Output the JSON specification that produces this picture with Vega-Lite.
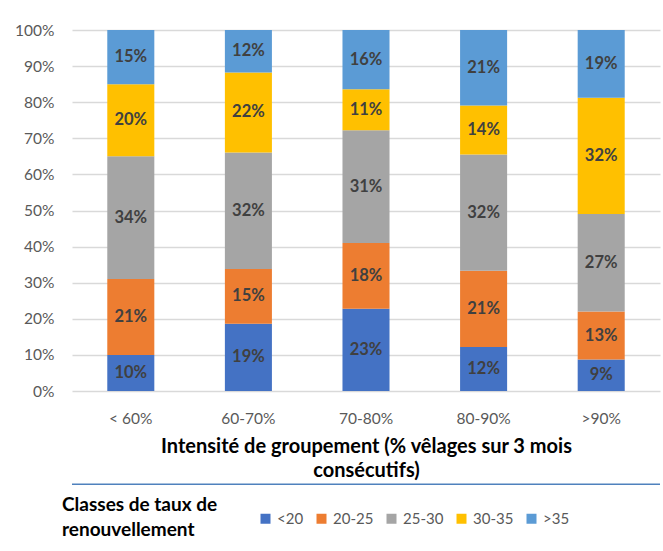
{
  "$schema": "https://vega.github.io/schema/vega-lite/v6.json",
  "width": 588,
  "height": 361,
  "autosize": {"type": "none"},
  "padding": {"left": 72, "top": 30, "right": 3, "bottom": 160},
  "background": "white",
  "config": {
    "font": "Lato",
    "view": {"stroke": null},
    "axisY": {
      "labelOverlap": false,
      "labelFontSize": 15.5, "labelColor": "#595959", "labelPadding": 18,
      "domain": false, "ticks": false, "gridColor": "#D9D9D9", "gridWidth": 1.3,
      "format": ".0%"
    }
  },
  "layer": [
    {
      "data": {"values": [
        {"g": "< 60%", "c": "<20", "k": 1, "v": 0.10},
        {"g": "< 60%", "c": "20-25", "k": 2, "v": 0.21},
        {"g": "< 60%", "c": "25-30", "k": 3, "v": 0.34},
        {"g": "< 60%", "c": "30-35", "k": 4, "v": 0.20},
        {"g": "< 60%", "c": ">35", "k": 5, "v": 0.15},
        {"g": "60-70%", "c": "<20", "k": 1, "v": 0.186},
        {"g": "60-70%", "c": "20-25", "k": 2, "v": 0.152},
        {"g": "60-70%", "c": "25-30", "k": 3, "v": 0.323},
        {"g": "60-70%", "c": "30-35", "k": 4, "v": 0.221},
        {"g": "60-70%", "c": ">35", "k": 5, "v": 0.118},
        {"g": "70-80%", "c": "<20", "k": 1, "v": 0.228},
        {"g": "70-80%", "c": "20-25", "k": 2, "v": 0.182},
        {"g": "70-80%", "c": "25-30", "k": 3, "v": 0.312},
        {"g": "70-80%", "c": "30-35", "k": 4, "v": 0.114},
        {"g": "70-80%", "c": ">35", "k": 5, "v": 0.164},
        {"g": "80-90%", "c": "<20", "k": 1, "v": 0.122},
        {"g": "80-90%", "c": "20-25", "k": 2, "v": 0.211},
        {"g": "80-90%", "c": "25-30", "k": 3, "v": 0.322},
        {"g": "80-90%", "c": "30-35", "k": 4, "v": 0.136},
        {"g": "80-90%", "c": ">35", "k": 5, "v": 0.209},
        {"g": ">90%", "c": "<20", "k": 1, "v": 0.087},
        {"g": ">90%", "c": "20-25", "k": 2, "v": 0.133},
        {"g": ">90%", "c": "25-30", "k": 3, "v": 0.270},
        {"g": ">90%", "c": "30-35", "k": 4, "v": 0.322},
        {"g": ">90%", "c": ">35", "k": 5, "v": 0.188}
      ]},
      "transform": [
        {"stack": "v", "groupby": ["g"], "sort": [{"field": "k"}], "as": ["v0", "v1"]},
        {"calculate": "(datum.v0 + datum.v1) / 2", "as": "mid"}
      ],
      "encoding": {
        "x": {
          "field": "g", "type": "nominal",
          "sort": ["< 60%", "60-70%", "70-80%", "80-90%", ">90%"],
          "scale": {"paddingInner": 0.6, "paddingOuter": 0.3},
          "axis": {
            "labelAngle": 0, "labelFontSize": 15.5, "labelColor": "#595959", "labelPadding": 20,
            "domain": false, "ticks": false,
            "title": ["Intensité de groupement (% vêlages sur 3 mois", "consécutifs)"],
            "titleFontSize": 20, "titleFontWeight": "bold", "titleColor": "#000000",
            "titlePadding": 10, "titleLineHeight": 23.5
          }
        }
      },
      "layer": [
        {
          "mark": {"type": "bar"},
          "encoding": {
            "y": {
              "field": "v0", "type": "quantitative",
              "scale": {"domain": [0, 1]},
              "axis": {"values": [0, 0.1, 0.2, 0.3, 0.4, 0.5, 0.6, 0.7, 0.8, 0.9, 1], "title": null}
            },
            "y2": {"field": "v1"},
            "color": {
              "field": "c", "type": "nominal",
              "scale": {
                "domain": ["<20", "20-25", "25-30", "30-35", ">35"],
                "range": ["#4472C4", "#ED7D31", "#A5A5A5", "#FFC000", "#5B9BD5"]
              },
              "legend": {
                "orient": "none", "legendX": -10, "legendY": 481,
                "direction": "horizontal",
                "title": ["Classes de taux de", "renouvellement"],
                "titleOrient": "left", "titleAnchor": "start", "titleBaseline": "alphabetic",
                "titleFontSize": 19, "titleFontWeight": "bold",
                "titleColor": "#000000", "titleLineHeight": 25, "titlePadding": 40,
                "labelFontSize": 15, "labelColor": "#595959",
                "symbolType": "square", "symbolSize": 100, "symbolStrokeWidth": 0,
                "labelOffset": 4, "columnPadding": 10
              }
            }
          }
        },
        {
          "mark": {"type": "text", "fontWeight": "bold", "fontSize": 16.5, "color": "#404040"},
          "encoding": {
            "y": {
              "field": "mid", "type": "quantitative", "scale": {"domain": [0, 1]},
              "axis": {"values": [0, 0.1, 0.2, 0.3, 0.4, 0.5, 0.6, 0.7, 0.8, 0.9, 1], "title": null}
            },
            "text": {"field": "v", "type": "quantitative", "format": ".0%"}
          }
        }
      ]
    },
    {
      "data": {"values": [{}]},
      "mark": {"type": "rule", "color": "#4F81BD", "strokeWidth": 1.5},
      "encoding": {
        "y": {
          "datum": -0.258, "type": "quantitative", "scale": {"domain": [0, 1]},
          "axis": {"values": [0, 0.1, 0.2, 0.3, 0.4, 0.5, 0.6, 0.7, 0.8, 0.9, 1], "title": null}
        }
      }
    }
  ]
}
